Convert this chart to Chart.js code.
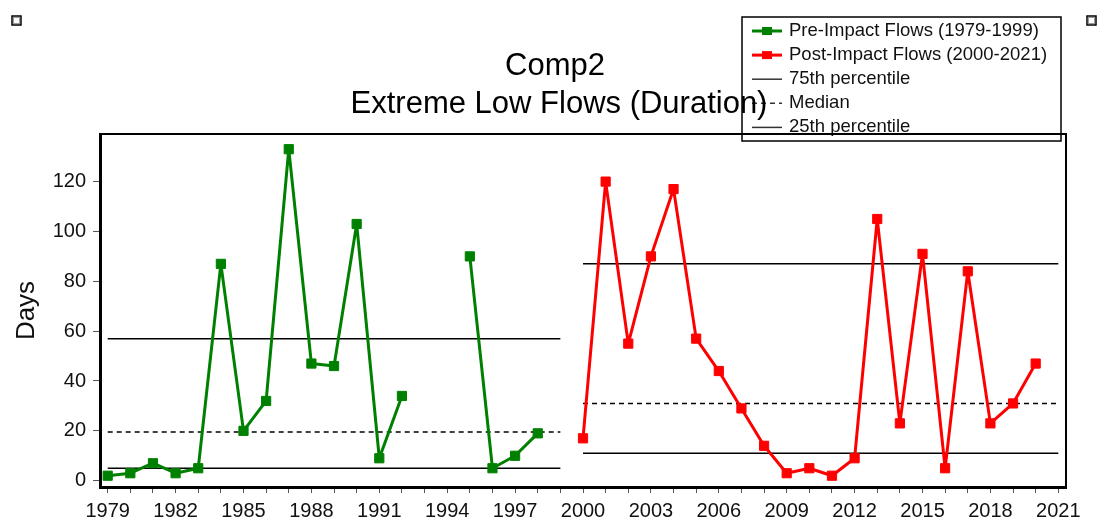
<!DOCTYPE html>
<html>
<head>
<meta charset="utf-8">
<script src="https://cdn.jsdelivr.net/npm/chart.js@4.4.0/dist/chart.umd.min.js"></script>
<style>
  html, body { margin: 0; padding: 0; background: #fff; }
  canvas { display: block; }
</style>
</head>
<body>
<canvas id="chart" width="1097" height="523"></canvas>
<script>
// yearly duration of extreme low flows (days)
const preYears = [1979, 1980, 1981, 1982, 1983, 1984, 1985, 1986, 1987, 1988, 1989,
                  1990, 1991, 1992, 1993, 1994, 1995, 1996, 1997, 1998, 1999];
const preDays = [2, 3, 7, 3, 5, 87, 20, 32, 133, 47, 46,
                 103, 9, 34, null, null, 90, 5, 10, 19, null];

const postYears = [2000, 2001, 2002, 2003, 2004, 2005, 2006, 2007, 2008, 2009, 2010,
                   2011, 2012, 2013, 2014, 2015, 2016, 2017, 2018, 2019, 2020, 2021];
const postDays = [17, 120, 55, 90, 117, 57, 44, 29, 14, 3, 5,
                  2, 9, 105, 23, 91, 5, 84, 23, 31, 47, null];

// 75th percentile, median, 25th percentile
const statLabels = ['75th percentile', 'Median', '25th percentile'];
const preStats = [57, 19.5, 5];
const postStats = [87, 31, 11];

const FONT = '"Liberation Sans", Arial, sans-serif';

const statLine = (years, value, dashed) => ({
  label: '',
  data: [{ x: years[0], y: value }, { x: years[years.length - 1], y: value }],
  borderColor: '#000',
  borderWidth: 1.5,
  borderDash: dashed ? [5, 4] : [],
  pointRadius: 0,
  fill: false
});

const datasets = [
  {
    label: 'Pre-Impact Flows (1979-1999)',
    data: preYears.map((x, i) => ({ x: x, y: preDays[i] })),
    borderColor: '#008000',
    backgroundColor: '#008000',
    borderWidth: 3,
    borderJoinStyle: 'round',
    pointStyle: 'rect',
    pointRadius: 6.5,
    pointBorderWidth: 1,
    spanGaps: false
  },
  {
    label: 'Post-Impact Flows (2000-2021)',
    data: postYears.map((x, i) => ({ x: x, y: postDays[i] })),
    borderColor: '#ff0000',
    backgroundColor: '#ff0000',
    borderWidth: 3,
    borderJoinStyle: 'round',
    pointStyle: 'rect',
    pointRadius: 6.5,
    pointBorderWidth: 1,
    spanGaps: false
  }
];
preStats.forEach((v, i) => datasets.push(statLine(preYears, v, i === 1)));
postStats.forEach((v, i) => datasets.push(statLine(postYears, v, i === 1)));

// title, boxed legend and the frame around the plot
const overlay = {
  id: 'overlay',
  afterDraw(chart) {
    const ctx = chart.ctx;
    const area = chart.chartArea;
    ctx.save();

    // legend box
    const lx = 742, ly = 17, lw = 319, lh = 124;
    ctx.fillStyle = '#fff';
    ctx.fillRect(lx, ly, lw, lh);
    ctx.strokeStyle = '#000';
    ctx.lineWidth = 1.5;
    ctx.strokeRect(lx, ly, lw, lh);

    const items = [
      { text: datasets[0].label, color: datasets[0].borderColor, marker: true },
      { text: datasets[1].label, color: datasets[1].borderColor, marker: true },
      { text: statLabels[0], color: '#333', dash: [] },
      { text: statLabels[1], color: '#333', dash: [5, 4] },
      { text: statLabels[2], color: '#333', dash: [] }
    ];
    ctx.font = '18.5px ' + FONT;
    ctx.textBaseline = 'middle';
    ctx.textAlign = 'left';
    items.forEach((it, i) => {
      const y = 31 + i * 24.1;
      ctx.strokeStyle = it.color;
      ctx.lineWidth = it.marker ? 3 : 1.5;
      ctx.setLineDash(it.dash || []);
      ctx.beginPath();
      ctx.moveTo(752, y);
      ctx.lineTo(782, y);
      ctx.stroke();
      ctx.setLineDash([]);
      if (it.marker) {
        ctx.fillStyle = it.color;
        ctx.fillRect(762, y - 4, 10, 8);
      }
      ctx.fillStyle = '#111';
      ctx.fillText(it.text, 789, y);
    });

    // title
    ctx.fillStyle = '#000';
    ctx.textAlign = 'center';
    ctx.textBaseline = 'alphabetic';
    ctx.font = '31px ' + FONT;
    ctx.fillText('Comp2', 555, 75);
    ctx.fillText('Extreme Low Flows (Duration)', 559, 113);

    // top and right frame of the plot
    ctx.strokeStyle = '#000';
    ctx.lineWidth = 2;
    ctx.beginPath();
    ctx.moveTo(area.left, area.top);
    ctx.lineTo(area.right, area.top);
    ctx.lineTo(area.right, area.bottom);
    ctx.stroke();

    // small handles in the corners
    [[12, 16], [1087, 16]].forEach(([x, y]) => {
      ctx.fillStyle = '#fff';
      ctx.fillRect(x, y, 9, 9);
      ctx.strokeStyle = '#000';
      ctx.lineWidth = 1.5;
      ctx.strokeRect(x, y, 9, 9);
      ctx.strokeStyle = '#999';
      ctx.lineWidth = 1;
      ctx.strokeRect(x + 1.5, y + 1.5, 6, 6);
    });
    ctx.restore();
  }
};

new Chart(document.getElementById('chart'), {
  type: 'line',
  data: { datasets: datasets },
  options: {
    responsive: false,
    animation: false,
    layout: { padding: { top: 134, right: 31, left: 0, bottom: 0 } },
    plugins: {
      legend: { display: false },
      title: { display: false },
      tooltip: { enabled: false }
    },
    scales: {
      x: {
        type: 'linear',
        min: 1978.66,
        max: 2021.34,
        afterFit: s => { s.height = 36; },
        ticks: {
          stepSize: 1,
          includeBounds: false,
          autoSkip: false,
          maxTicksLimit: 100,
          maxRotation: 0,
          padding: 6,
          color: '#111',
          font: { family: FONT, size: 20 },
          callback: v => ((v - 1979) % 3 === 0 ? String(v) : '')
        },
        grid: { drawOnChartArea: false, tickLength: 6, color: '#555' },
        border: { color: '#000', width: 3 }
      },
      y: {
        min: -2.53,
        max: 139.1,
        afterFit: s => { s.width = 100; },
        ticks: {
          stepSize: 20,
          includeBounds: false,
          padding: 7,
          color: '#111',
          font: { family: FONT, size: 20 }
        },
        grid: { drawOnChartArea: false, tickLength: 7, color: '#555' },
        border: { color: '#000', width: 3 },
        title: {
          display: true,
          text: 'Days',
          color: '#111',
          font: { family: FONT, size: 26 },
          padding: { top: 11, bottom: 0 }
        }
      }
    }
  },
  plugins: [overlay]
});
</script>
</body>
</html>
